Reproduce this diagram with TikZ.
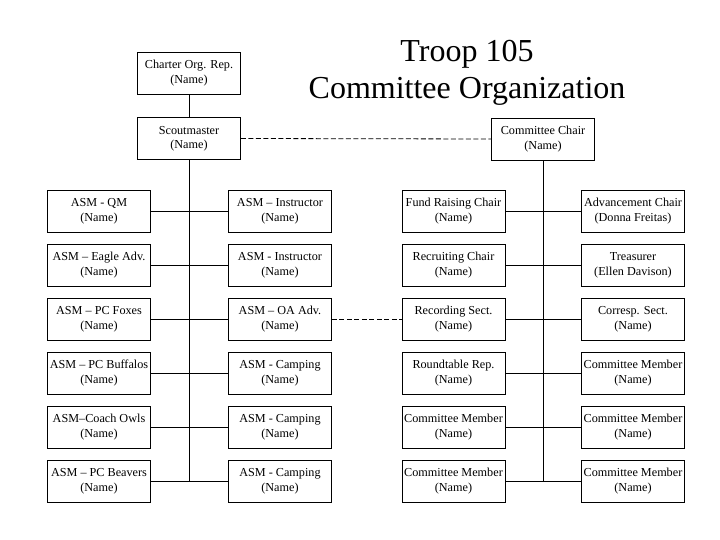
\documentclass[tikz,border=0pt]{standalone}
\usepackage{fontspec}
\setmainfont{Liberation Serif}
\newcommand{\bx}[2]{\strut #1\\\strut #2}
\begin{document}
\begin{tikzpicture}[x=1pt,y=-1pt,
  box/.style={draw, line width=0.8pt, minimum width=103pt, minimum height=42pt, inner sep=0pt, align=center, font=\fontsize{12.2}{14.5}\selectfont},
  link/.style={line width=0.8pt},
  dlink/.style={line width=0.8pt, dash pattern=on 5pt off 2.5pt},
  titletext/.style={anchor=base, inner sep=0pt, font=\fontsize{32}{37}\selectfont}]
\useasboundingbox (0,0) rectangle (720,540);
% title
\node[titletext] (t1) at (467,62) {Troop 105};
\node[titletext] (t2) at (467,99) {Committee Organization};
% top boxes
\node[box] (charter) at (189,73) {\bx{Charter Org. Rep.}{(Name)}};
\node[box] (sm) at (189,138.5) {\bx{Scoutmaster}{(Name)}};
\node[box] (cc) at (543,139) {\bx{Committee Chair}{(Name)}};
% rows
\node[box] (a1) at (99,211) {\bx{ASM - QM}{(Name)}};
\node[box] (b1) at (280,211) {\bx{ASM – Instructor}{(Name)}};
\node[box] (c1) at (453.5,211) {\bx{Fund Raising Chair}{(Name)}};
\node[box] (d1) at (633,211) {\bx{Advancement Chair}{(Donna Freitas)}};
\node[box] (a2) at (99,265) {\bx{ASM – Eagle Adv.}{(Name)}};
\node[box] (b2) at (280,265) {\bx{ASM - Instructor}{(Name)}};
\node[box] (c2) at (453.5,265) {\bx{Recruiting Chair}{(Name)}};
\node[box] (d2) at (633,265) {\bx{Treasurer}{(Ellen Davison)}};
\node[box] (a3) at (99,319) {\bx{ASM – PC Foxes}{(Name)}};
\node[box] (b3) at (280,319) {\bx{ASM – OA Adv.}{(Name)}};
\node[box] (c3) at (453.5,319) {\bx{Recording Sect.}{(Name)}};
\node[box] (d3) at (633,319) {\bx{Corresp. Sect.}{(Name)}};
\node[box] (a4) at (99,373) {\bx{ASM – PC Buffalos}{(Name)}};
\node[box] (b4) at (280,373) {\bx{ASM - Camping}{(Name)}};
\node[box] (c4) at (453.5,373) {\bx{Roundtable Rep.}{(Name)}};
\node[box] (d4) at (633,373) {\bx{Committee Member}{(Name)}};
\node[box] (a5) at (99,427) {\bx{ASM–Coach Owls}{(Name)}};
\node[box] (b5) at (280,427) {\bx{ASM - Camping}{(Name)}};
\node[box] (c5) at (453.5,427) {\bx{Committee Member}{(Name)}};
\node[box] (d5) at (633,427) {\bx{Committee Member}{(Name)}};
\node[box] (a6) at (99,481) {\bx{ASM – PC Beavers}{(Name)}};
\node[box] (b6) at (280,481) {\bx{ASM - Camping}{(Name)}};
\node[box] (c6) at (453.5,481) {\bx{Committee Member}{(Name)}};
\node[box] (d6) at (633,481) {\bx{Committee Member}{(Name)}};
% trunks
\coordinate (lt) at (sm.south |- a6.east);
\coordinate (rt) at (cc.south |- c6.east);
\draw[link] (charter) -- (sm);
\draw[link] (sm.south) -- (lt);
\draw[link] (cc.south) -- (rt);
\draw[dlink] (sm.east) -- (cc.west);
% row links
\foreach \i in {1,...,6} {
  \draw[link] (a\i.east) -- (b\i.west);
  \draw[link] (c\i.east) -- (d\i.west);
}
\draw[dlink] (b3.east) -- (c3.west);
\end{tikzpicture}
\end{document}
